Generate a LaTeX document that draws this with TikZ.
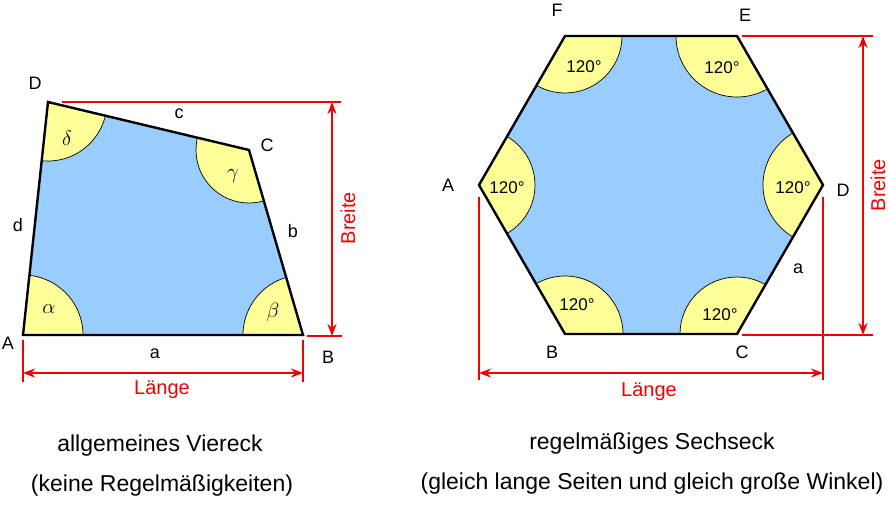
\documentclass[tikz,border=0pt]{standalone}
\usepackage{fontspec}
\setmainfont{Liberation Sans}
\usetikzlibrary{arrows.meta}
\definecolor{fillblue}{RGB}{153,204,255}
\definecolor{angyellow}{RGB}{255,255,153}
\definecolor{dimred}{RGB}{240,0,0}
\begin{document}
\begin{tikzpicture}[x=1pt,y=-1pt,
  edge/.style={line width=2.4pt, line join=miter, draw=black},
  arcline/.style={line width=0.7pt, draw=black, fill=angyellow},
  dim/.style={draw=dimred, line width=2pt},
  dimarrow/.style={dim, {Stealth[length=12pt,width=9pt]}-{Stealth[length=12pt,width=9pt]}},
  lbl/.style={font=\fontsize{18}{21}\selectfont, inner sep=0pt},
  glbl/.style={font=\fontsize{21}{24}\selectfont, inner sep=0pt},
  deg/.style={font=\fontsize{17}{20}\selectfont, inner sep=0pt},
  rlbl/.style={font=\fontsize{20}{24}\selectfont, text=dimred, inner sep=0pt},
  captxt/.style={font=\fontsize{23}{26}\selectfont, inner sep=0pt}
]
\useasboundingbox (0,0) rectangle (888,506);

% ---------- quadrilateral ----------
\coordinate (qA) at (23,335);
\coordinate (qB) at (303,335);
\coordinate (qC) at (249,150);
\coordinate (qD) at (48,102);
\begin{scope}
  \clip (qA)--(qB)--(qC)--(qD)--cycle;
  \fill[fillblue] (qA)--(qB)--(qC)--(qD)--cycle;
  \foreach \v/\r in {qA/60,qB/60,qC/53,qD/59}
    {\filldraw[arcline] (\v) circle[radius=\r];}
\end{scope}
\draw[edge] (qA)--(qB)--(qC)--(qD)--cycle;

\node[lbl] (lA) at (8,343) {A};
\node[lbl] (lB) at (328,357) {B};
\node[lbl] (lC) at (267,145) {C};
\node[lbl] (lD) at (35,83) {D};
\node[lbl] (la) at (155,354) {a};
\node[lbl] (lb) at (293,231) {b};
\node[lbl] (lc) at (179,114) {c};
\node[lbl] (ld) at (18,225) {d};
\node[glbl] (galpha) at (49,309) {$\alpha$};
\node[glbl] (gbeta) at (273,312) {$\beta$};
\node[glbl] (ggamma) at (233,176) {$\gamma$};
\node[glbl] (gdelta) at (67,138) {$\delta$};

% dimensions left
\coordinate (lt1) at (62,102);   \coordinate (lt2) at (341,102);
\coordinate (lb1) at (307,336);  \coordinate (lb2) at (342,336);
\coordinate (lv1) at (332,102);  \coordinate (lv2) at (332,336);
\coordinate (lk1a) at (23,340);  \coordinate (lk1b) at (23,382);
\coordinate (lk2a) at (303,340); \coordinate (lk2b) at (303,382);
\coordinate (lh1) at (23,373);   \coordinate (lh2) at (303,373);
\draw[dim] (lt1) -- (lt2);
\draw[dim] (lb1) -- (lb2);
\draw[dim] (lk1a) -- (lk1b);
\draw[dim] (lk2a) -- (lk2b);
\draw[dimarrow] (lv1) -- (lv2);
\draw[dimarrow] (lh1) -- (lh2);
\node[rlbl, rotate=90] (lbreite) at (348,218) {Breite};
\node[rlbl] (llaenge) at (162,390) {Länge};

% ---------- hexagon ----------
\coordinate (hA) at (479,185);
\coordinate (hB) at (565,334);
\coordinate (hC) at (737,334);
\coordinate (hD) at (823,185);
\coordinate (hE) at (737,36);
\coordinate (hF) at (565,36);
\begin{scope}
  \clip (hA)--(hB)--(hC)--(hD)--(hE)--(hF)--cycle;
  \fill[fillblue] (hA)--(hB)--(hC)--(hD)--(hE)--(hF)--cycle;
  \foreach \v/\r in {hA/56,hB/58,hC/57,hD/60,hE/61,hF/57}
    {\filldraw[arcline] (\v) circle[radius=\r];}
\end{scope}
\draw[edge] (hA)--(hB)--(hC)--(hD)--(hE)--(hF)--cycle;

\node[lbl] (hlA) at (448,185) {A};
\node[lbl] (hlB) at (552,352) {B};
\node[lbl] (hlC) at (742,352) {C};
\node[lbl] (hlD) at (843,190) {D};
\node[lbl] (hlE) at (745,15) {E};
\node[lbl] (hlF) at (557,10) {F};
\node[lbl] (hla) at (798,269) {a};
\node[deg] (dF) at (584,67) {120°};
\node[deg] (dE) at (722,68) {120°};
\node[deg] (dA) at (507,188) {120°};
\node[deg] (dD) at (793,188) {120°};
\node[deg] (dB) at (577,305) {120°};
\node[deg] (dC) at (720,315) {120°};

% dimensions right
\coordinate (rt1) at (742,36);   \coordinate (rt2) at (873,36);
\coordinate (rb1) at (742,335);  \coordinate (rb2) at (873,335);
\coordinate (rv1) at (863,36);   \coordinate (rv2) at (863,335);
\coordinate (rk1a) at (479,197); \coordinate (rk1b) at (479,380);
\coordinate (rk2a) at (823,197); \coordinate (rk2b) at (823,380);
\coordinate (rh1) at (479,373);  \coordinate (rh2) at (823,373);
\draw[dim] (rt1) -- (rt2);
\draw[dim] (rb1) -- (rb2);
\draw[dim] (rk1a) -- (rk1b);
\draw[dim] (rk2a) -- (rk2b);
\draw[dimarrow] (rv1) -- (rv2);
\draw[dimarrow] (rh1) -- (rh2);
\node[rlbl, rotate=90] (rbreite) at (878,185) {Breite};
\node[rlbl] (rlaenge) at (649,392) {Länge};

% ---------- captions ----------
\node[captxt] (c1) at (160,446) {allgemeines Viereck};
\node[captxt] (c2) at (162,486) {(keine Regelmäßigkeiten)};
\node[captxt] (c3) at (652,444) {regelmäßiges Sechseck};
\node[captxt] (c4) at (652,484) {(gleich lange Seiten und gleich große Winkel)};
\end{tikzpicture}
\end{document}
